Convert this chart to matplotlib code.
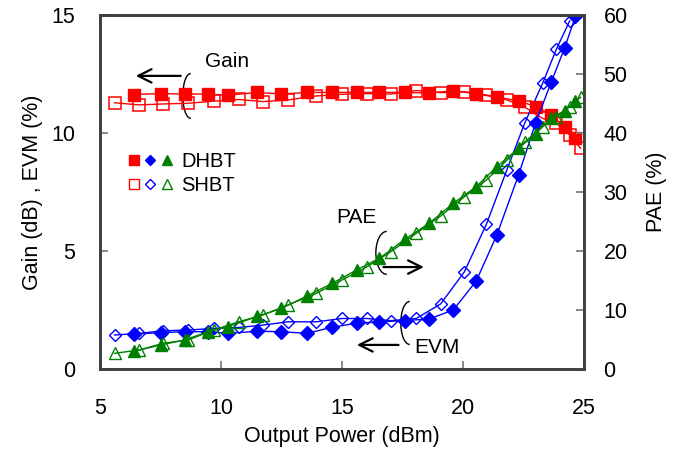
import matplotlib
matplotlib.use("Agg")
import matplotlib.pyplot as plt
from matplotlib.patches import Arc
from matplotlib.lines import Line2D
from matplotlib.legend_handler import HandlerTuple

plt.rcParams["font.family"] = ["Liberation Sans", "DejaVu Sans"]

# DHBT (filled markers)
dhbt_pout = [6.4, 7.5, 8.5, 9.45, 10.3, 11.5, 12.5, 13.55, 14.6, 15.6, 16.55,
             17.6, 18.6, 19.6, 20.55, 21.4, 22.3, 23.0, 23.65, 24.2, 24.65]
dhbt_gain = [11.63, 11.67, 11.65, 11.65, 11.6, 11.72, 11.65, 11.72, 11.72, 11.72, 11.72,
             11.72, 11.69, 11.79, 11.66, 11.51, 11.37, 11.11, 10.76, 10.24, 9.80]
dhbt_evm = [1.48, 1.54, 1.58, 1.58, 1.51, 1.6, 1.58, 1.51, 1.77, 1.94, 2.0,
            2.05, 2.12, 2.5, 3.73, 5.68, 8.23, 10.42, 12.16, 13.6, 14.95]
dhbt_pae = [3.0, 4.07, 4.92, 6.3, 7.2, 8.9, 10.28, 12.37, 14.52, 16.78, 18.76,
            21.98, 24.69, 28.08, 30.9, 34.3, 37.4, 39.9, 42.5, 43.8, 45.4]

# SHBT (open markers)
shbt_pout = [5.6, 6.63, 7.6, 8.65, 9.7, 10.74, 11.73, 12.77, 13.94, 15.0, 16.04,
             17.02, 18.07, 19.08, 20.06, 20.97, 21.82, 22.56, 23.29, 23.86, 24.41, 24.86]
shbt_gain = [11.28, 11.19, 11.23, 11.26, 11.35, 11.42, 11.33, 11.4, 11.57, 11.64, 11.67,
             11.65, 11.8, 11.71, 11.75, 11.61, 11.4, 11.09, 10.62, 10.41, 9.92, 9.35]
shbt_evm = [1.44, 1.51, 1.62, 1.65, 1.72, 1.76, 1.86, 2.0, 2.0, 2.14, 2.14,
            2.05, 2.14, 2.76, 4.12, 6.14, 8.45, 10.44, 12.1, 13.55, 14.75]
shbt_pae = [2.66, 3.22, 4.35, 4.92, 6.61, 8.02, 9.15, 10.85, 12.82, 15.08, 17.34,
            19.88, 23.0, 25.93, 29.2, 32.03, 35.4, 38.5, 41.07, 42.76, 44.46, 46.05]

RED, BLUE, GREEN = "#ff0000", "#0000ff", "#008000"
AX_COL = "#404040"

fig = plt.figure(figsize=(6.87, 4.5), dpi=100)
ax = fig.add_axes([0.1456, 0.18, 0.7044, 0.7867])
ax2 = ax.twinx()

# open markers first, filled on top
ax.plot(shbt_pout, shbt_gain, "-s", color=RED, lw=1, ms=8, mfc="none", mew=1.1)
ax.plot(shbt_pout[:len(shbt_evm)], shbt_evm, "-D", color=BLUE, lw=1, ms=6.5, mfc="none", mew=1.0)
ax.plot(dhbt_pout, dhbt_gain, "-s", color=RED, lw=1, ms=8)
ax.plot(dhbt_pout, dhbt_evm, "-D", color=BLUE, lw=1, ms=7)
ax2.plot(shbt_pout, shbt_pae, "-^", color=GREEN, lw=1, ms=9, mfc="none", mew=1.0)
ax2.plot(dhbt_pout, dhbt_pae, "-^", color=GREEN, lw=1, ms=9)

ax.set_xlim(5, 25)
ax.set_ylim(0, 15)
ax2.set_ylim(0, 60)
ax.set_xticks([5, 10, 15, 20, 25])
ax.set_yticks([0, 5, 10, 15])
ax2.set_yticks([0, 10, 20, 30, 40, 50, 60])

for a in (ax, ax2):
    for s in a.spines.values():
        s.set_color(AX_COL)
        s.set_linewidth(2)
ax.tick_params(axis="both", direction="in", length=6, width=1.3, color="#808080",
               labelsize=15.5)
ax.tick_params(axis="x", pad=21)
ax.tick_params(axis="y", pad=18)
ax2.tick_params(axis="y", direction="in", length=6, width=1.3, color="#808080",
                labelsize=15.5, pad=14)

ax.set_xlabel("Output Power (dBm)", fontsize=15.5, labelpad=5)
ax.set_ylabel("Gain (dB) , EVM (%)", fontsize=15.5, labelpad=6)
ax2.set_ylabel("PAE (%)", fontsize=15.5, labelpad=13)

# annotations: text, brace, arrow (in left-axis units)
arrow = dict(arrowstyle="->", lw=1.6, color="black", mutation_scale=24)
ax.text(10.25, 13.05, "Gain", fontsize=15, ha="center", va="center")
ax.annotate("", xy=(6.36, 12.42), xytext=(8.45, 12.42), arrowprops=arrow)
ax.add_patch(Arc((8.75, 11.57), 0.66, 1.9, theta1=90, theta2=270, color="black", lw=1))

ax.text(15.58, 6.4, "PAE", fontsize=15, ha="center", va="center")
ax.annotate("", xy=(18.5, 4.32), xytext=(16.6, 4.32), arrowprops=arrow)
ax.add_patch(Arc((16.85, 4.92), 0.9, 1.82, theta1=90, theta2=270, color="black", lw=1))

ax.text(18.91, 0.89, "EVM", fontsize=15, ha="center", va="center")
ax.annotate("", xy=(15.5, 1.02), xytext=(17.45, 1.02), arrowprops=arrow)
ax.add_patch(Arc((17.8, 1.95), 0.74, 1.82, theta1=90, theta2=270, color="black", lw=1))

# legend with three markers per row
filled = (Line2D([], [], ls="", marker="s", color=RED, ms=7),
          Line2D([], [], ls="", marker="D", color=BLUE, ms=5.5),
          Line2D([], [], ls="", marker="^", color=GREEN, ms=7.5))
hollow = (Line2D([], [], ls="", marker="s", color=RED, ms=7, mfc="none"),
          Line2D([], [], ls="", marker="D", color=BLUE, ms=5.5, mfc="none"),
          Line2D([], [], ls="", marker="^", color=GREEN, ms=7.5, mfc="none"))
ax2.legend([filled, hollow], ["DHBT", "SHBT"],
           handler_map={tuple: HandlerTuple(ndivide=None, pad=0.45)},
           loc="upper left", bbox_to_anchor=(0.025, 0.664), frameon=False,
           fontsize=14.5, handlelength=2.0, handletextpad=0.55, labelspacing=0.25)

fig.savefig("out.png", dpi=100)
